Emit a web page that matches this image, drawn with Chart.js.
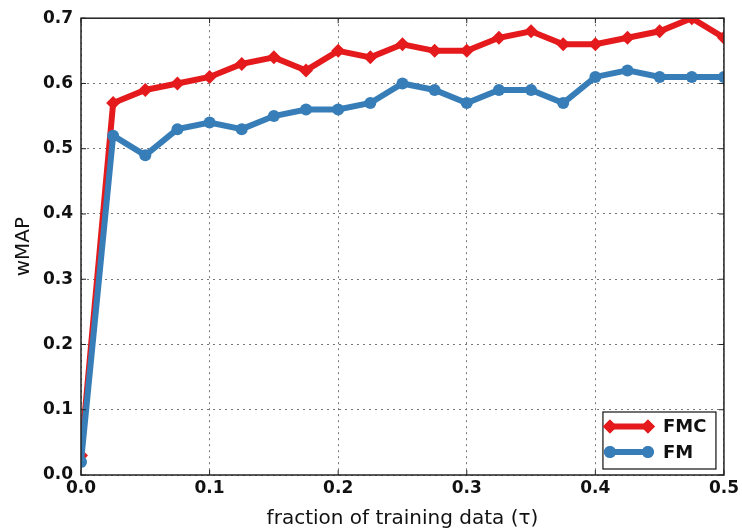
<!DOCTYPE html>
<html>
<head>
<meta charset="utf-8">
<script src="https://cdn.jsdelivr.net/npm/chart.js@4.4.0/dist/chart.umd.min.js"></script>
<style>
  html, body { margin: 0; padding: 0; background: #fff; }
  #wrap { width: 742px; height: 531px; }
</style>
</head>
<body>
<div id="wrap"><canvas id="chart" width="742" height="531"></canvas></div>
<script>
// ─── Data ────────────────────────────────────────────────────────
const fractions = [0, 0.025, 0.05, 0.075, 0.1, 0.125, 0.15, 0.175, 0.2, 0.225, 0.25,
                   0.275, 0.3, 0.325, 0.35, 0.375, 0.4, 0.425, 0.45, 0.475, 0.5];
const fmcValues = [0.03, 0.57, 0.59, 0.60, 0.61, 0.63, 0.64, 0.62, 0.65, 0.64, 0.66,
                   0.65, 0.65, 0.67, 0.68, 0.66, 0.66, 0.67, 0.68, 0.70, 0.67];
const fmValues  = [0.02, 0.52, 0.49, 0.53, 0.54, 0.53, 0.55, 0.56, 0.56, 0.57, 0.60,
                   0.59, 0.57, 0.59, 0.59, 0.57, 0.61, 0.62, 0.61, 0.61, 0.61];
const xTicks = [0, 0.1, 0.2, 0.3, 0.4, 0.5];
const yTicks = [0, 0.1, 0.2, 0.3, 0.4, 0.5, 0.6, 0.7];

const RED = "#e41a1c";
const BLUE = "#377eb8";
const FONT = "'DejaVu Sans', sans-serif";

const toPoints = vals => fractions.map((f, i) => ({ x: f, y: vals[i] }));

// ─── Frame, inward ticks and legend box ──────────────────────────
const framePlugin = {
    id: "frame",
    afterDraw(chart) {
        const { ctx, chartArea: a, scales } = chart;
        ctx.save();
        ctx.strokeStyle = "#222";
        ctx.lineWidth = 1.5;
        ctx.strokeRect(a.left, a.top, a.right - a.left, a.bottom - a.top);

        ctx.lineWidth = 1;
        const len = 5;
        ctx.beginPath();
        xTicks.forEach(v => {
            const px = scales.x.getPixelForValue(v);
            ctx.moveTo(px, a.bottom); ctx.lineTo(px, a.bottom - len);
            ctx.moveTo(px, a.top); ctx.lineTo(px, a.top + len);
        });
        yTicks.forEach(v => {
            const py = scales.y.getPixelForValue(v);
            ctx.moveTo(a.left, py); ctx.lineTo(a.left + len, py);
            ctx.moveTo(a.right, py); ctx.lineTo(a.right - len, py);
        });
        ctx.stroke();

        // legend
        const bx = a.right - 121, by = a.bottom - 63, bw = 113, bh = 57;
        ctx.fillStyle = "#fff";
        ctx.fillRect(bx, by, bw, bh);
        ctx.strokeStyle = "#111";
        ctx.lineWidth = 1.2;
        ctx.strokeRect(bx, by, bw, bh);

        const items = [
            { label: "FMC", color: RED, style: "rectRot", r: 7, y: by + 14.5 },
            { label: "FM", color: BLUE, style: "circle", r: 6, y: by + 40 }
        ];
        items.forEach(it => {
            const x1 = bx + 7, x2 = bx + 45;
            ctx.strokeStyle = it.color;
            ctx.lineWidth = 6;
            ctx.beginPath();
            ctx.moveTo(x1, it.y); ctx.lineTo(x2, it.y);
            ctx.stroke();
            ctx.fillStyle = it.color;
            [x1, x2].forEach(x => {
                Chart.helpers.drawPoint(ctx, { pointStyle: it.style, radius: it.r, borderWidth: 0 }, x, it.y);
                ctx.fill();
            });
            ctx.fillStyle = "#111";
            ctx.font = "bold 18px " + FONT;
            ctx.textBaseline = "middle";
            ctx.textAlign = "left";
            ctx.fillText(it.label, bx + 60, it.y + 1);
        });
        ctx.restore();
    }
};

// ─── Chart ───────────────────────────────────────────────────────
new Chart(document.getElementById("chart").getContext("2d"), {
    type: "line",
    data: {
        datasets: [
            {
                label: "FMC",
                data: toPoints(fmcValues),
                borderColor: RED,
                backgroundColor: RED,
                borderWidth: 6,
                pointStyle: "rectRot",
                pointRadius: 7,
                pointBorderWidth: 0,
                tension: 0,
                clip: 0,
                order: 2
            },
            {
                label: "FM",
                data: toPoints(fmValues),
                borderColor: BLUE,
                backgroundColor: BLUE,
                borderWidth: 6,
                pointStyle: "circle",
                pointRadius: 6,
                pointBorderWidth: 0,
                tension: 0,
                clip: 0,
                order: 1
            }
        ]
    },
    options: {
        responsive: false,
        animation: false,
        layout: { padding: { top: 17, right: 18, left: 0, bottom: 0 } },
        plugins: {
            legend: { display: false },
            tooltip: { enabled: false }
        },
        scales: {
            x: {
                type: "linear",
                min: 0,
                max: 0.5,
                afterBuildTicks: s => { s.ticks = xTicks.map(v => ({ value: v })); },
                afterFit: s => { s.height = 56; },
                ticks: {
                    color: "#111",
                    font: { family: FONT, size: 17, weight: "bold" },
                    padding: 3,
                    maxRotation: 0,
                    callback: v => v.toFixed(1)
                },
                grid: { color: "#777", lineWidth: 1, drawTicks: false },
                border: { display: false, dash: [2, 4] },
                title: {
                    display: true,
                    text: "fraction of training data (τ)",
                    color: "#111",
                    font: { family: FONT, size: 20 },
                    padding: { top: 3, bottom: 0 }
                }
            },
            y: {
                min: 0,
                max: 0.7,
                afterBuildTicks: s => { s.ticks = yTicks.map(v => ({ value: v })); },
                afterFit: s => { s.width = 81; },
                ticks: {
                    color: "#111",
                    font: { family: FONT, size: 17, weight: "bold" },
                    padding: 8,
                    callback: v => v.toFixed(1)
                },
                grid: { color: "#777", lineWidth: 1, drawTicks: false },
                border: { display: false, dash: [2, 4] },
                title: {
                    display: true,
                    text: "wMAP",
                    color: "#111",
                    font: { family: FONT, size: 20 },
                    padding: { top: 12, bottom: 0 }
                }
            }
        }
    },
    plugins: [framePlugin]
});
</script>
</body>
</html>
